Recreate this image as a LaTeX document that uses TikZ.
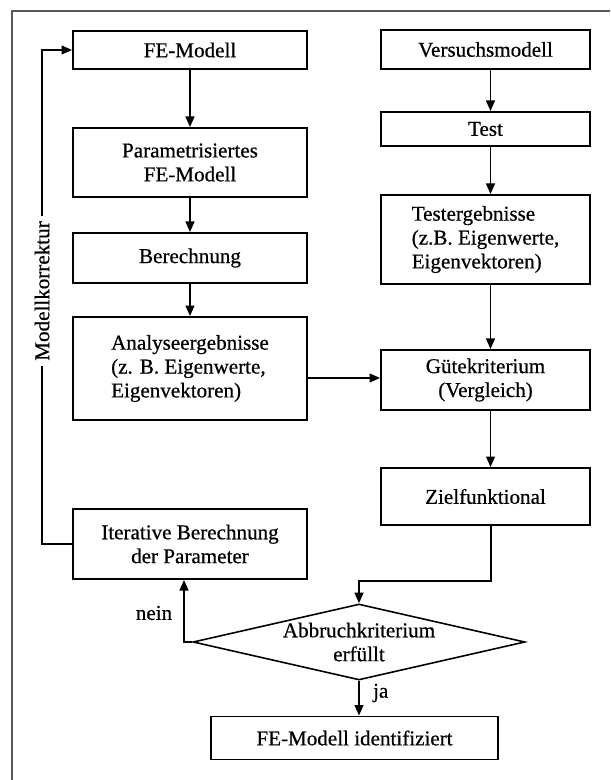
\documentclass[tikz,border=0pt]{standalone}
\usepackage{fontspec}
\setmainfont{Liberation Serif}[FakeBold=0.6]
\usetikzlibrary{arrows.meta,shapes.geometric}
\begin{document}
\begin{tikzpicture}[x=0.02cm, y=-0.02cm,
  txt/.style={font=\fontsize{12}{13.6}\selectfont},
  box/.style={draw, line width=1.1pt, inner sep=2pt, align=center, txt},
  lcol/.style={box, minimum width=4.68cm},
  rcol/.style={box, minimum width=4.18cm},
  arr/.style={line width=1.1pt, -{Triangle[length=6pt,width=5pt]}},
  lbl/.style={txt, inner sep=1pt}]
\useasboundingbox (0,0) rectangle (610,780);
% outer frame (left and top edges)
\draw[gray!70!black, line width=0.6pt] (12,780) -- (12,11) -- (610,11);

% left column: FE model chain
\node[lcol, minimum height=0.76cm] (fe) at (190,50) {FE-Modell};
\node[lcol, minimum height=1.38cm] (par) at (190,162.5) {Parametrisiertes\\FE-Modell};
\node[lcol, minimum height=1.0cm] (ber) at (190,258) {Berechnung};
\node[lcol, minimum height=2.06cm, align=left] (ana) at (190,368.5) {Analyseergebnisse\\(z. B. Eigenwerte,\\Eigenvektoren)};
\node[lcol, minimum height=1.4cm] (it) at (190,544) {Iterative Berechnung\\der Parameter};

% right column: test chain
\node[rcol, minimum height=0.78cm] (ver) at (485.5,49.5) {Versuchsmodell};
\node[rcol, minimum height=0.68cm] (tst) at (485.5,129) {Test};
\node[rcol, minimum height=1.78cm, align=left] (teg) at (485.5,239.5) {Testergebnisse\\(z.B. Eigenwerte,\\Eigenvektoren)};
\node[rcol, minimum height=1.2cm] (gue) at (485.5,380) {Gütekriterium\\(Vergleich)};
\node[rcol, minimum height=1.14cm] (zf) at (485.5,496.5) {Zielfunktional};

% decision and result
\node[draw, line width=0.9pt, diamond, shape aspect=4.37, minimum width=6.64cm,
      minimum height=1.52cm, inner sep=0pt, align=center, txt] (ab) at (359,642) {Abbruchkriterium\\erfüllt};
\node[box, minimum width=5.74cm, minimum height=0.86cm] (fin) at (354.5,738) {FE-Modell identifiziert};

% vertical flow arrows
\draw[arr] (fe) -- (par);
\draw[arr] (par) -- (ber);
\draw[arr] (ber) -- (ana);
\draw[arr] ([xshift=0.1cm]ver.south) -- ([xshift=0.1cm]tst.north);
\draw[arr] ([xshift=0.1cm]tst.south) -- ([xshift=0.1cm]teg.north);
\draw[arr] ([xshift=0.1cm]teg.south) -- ([xshift=0.1cm]gue.north);
\draw[arr] ([xshift=0.1cm]gue.south) -- ([xshift=0.1cm]zf.north);

% comparison input
\coordinate (ag) at (0,378);
\draw[arr] (ana.east |- ag) -- (gue.west |- ag);

% objective to decision
\coordinate (zj) at (491,581);
\draw[arr] (zf.south -| zj) -- (zj) -| (ab.north);

% no: back to parameter iteration
\coordinate (nc) at (184,642);
\draw[arr] (ab.west) -- (nc) -- (nc |- it.south);
\node[lbl] at (154,613) {nein};

% yes: identified model
\draw[arr] (ab.south) -- (ab.south |- fin.north);
\node[lbl, anchor=west] at (371,693) {ja};

% model correction loop
\node[lbl, rotate=90, inner sep=3pt] (mk) at (42,291) {Modellkorrektur};
\draw[arr] (it.west) -| (mk) |- (fe.west);
\end{tikzpicture}
\end{document}
